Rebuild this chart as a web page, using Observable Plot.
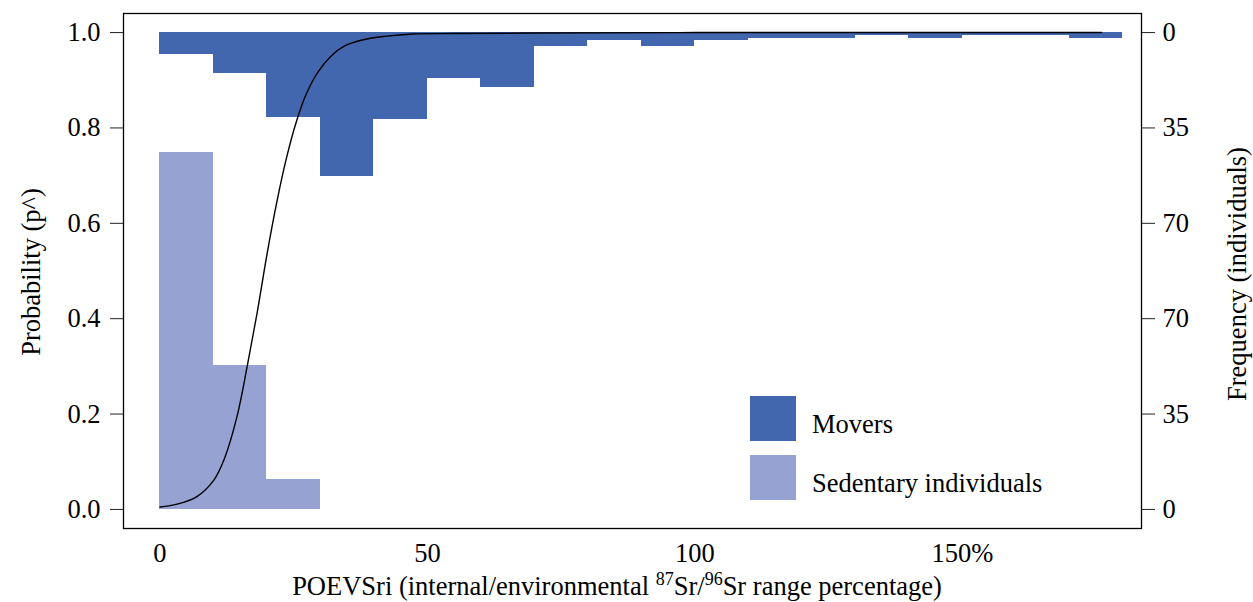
<!DOCTYPE html>
<html><head><meta charset="utf-8">
<script src="https://cdn.jsdelivr.net/npm/d3@7"></script>
<script src="https://cdn.jsdelivr.net/npm/@observablehq/plot@0.6"></script>
<style>body{margin:0;background:#fff;} svg{display:block}</style>
</head><body><div id="chart"></div>
<script>
// ---- data ----
const binStarts = [0,10,20,30,40,50,60,70,80,90,100,110,120,130,140,150,160,170];
const binWidth = 10;
const moverCounts = [8,15,31,53,32,17,20,5,3,5,3,2,2,1,2,1,1,2];
const sedentaryBinStarts = [0,10,20];
const sedentaryCounts = [131,53,11];
const individualsPerUnit = 175; // 35 individuals = 0.2 probability
const curveX = [0,3.2,6.9,10.1,12.0,14.4,16.3,18.2,20.0,21.9,23.6,25.4,27.3,29.4,31.9,34.5,38.0,42.0,47.4,55,70,100,140,176];
const curveY = [0.005,0.011,0.027,0.062,0.105,0.195,0.3,0.415,0.535,0.648,0.735,0.81,0.87,0.915,0.95,0.972,0.985,0.992,0.997,0.998,0.999,1.0,1.0,1.0];
const probTicks = [0,0.2,0.4,0.6,0.8,1.0];
const freqTickLabels = ["0","35","70","70","35","0"];
const xTicks = [0,50,100,150];
const xTickLabels = ["0","50","100","150%"];
const legendLabels = ["Movers","Sedentary individuals"];
const moverColor = "#4367AE", sedColor = "#95A2D2";

const movers = binStarts.map((b,i)=>({x1:b, x2:b+binWidth, y1:1, y2:1-moverCounts[i]/individualsPerUnit}));
const sed = sedentaryBinStarts.map((b,i)=>({x1:b, x2:b+binWidth, y1:0, y2:sedentaryCounts[i]/individualsPerUnit}));
const curve = curveX.map((x,i)=>({x, y:curveY[i]}));

const font = '"Liberation Serif", "Times New Roman", serif';
const fs = 26.5;
const plot = Plot.plot({
  width: 1253, height: 602,
  marginLeft: 123, marginRight: 112, marginTop: 13, marginBottom: 74,
  style: `font-family: ${font}; font-size: ${fs}px; color: #000; background: #fff;`,
  x: {domain: [-6.82, 183.46]},
  y: {domain: [-0.04, 1.04]},
  marks: [
    Plot.rect(sed, {x1:"x1", x2:"x2", y1:"y1", y2:"y2", fill: sedColor, inset: 0, shapeRendering: "crispEdges"}),
    Plot.rect(movers, {x1:"x1", x2:"x2", y1:"y1", y2:"y2", fill: moverColor, inset: 0, shapeRendering: "crispEdges"}),
    Plot.line(curve, {x:"x", y:"y", stroke:"black", strokeWidth:1.4, curve:"catmull-rom"}),
    Plot.frame({stroke:"black", strokeWidth:1.3}),
    Plot.axisX({ticks: xTicks, tickFormat: d => xTickLabels[xTicks.indexOf(d)], tickSize:0, tickPadding:15, label:null, fontSize:fs}),
    Plot.axisY({anchor:"left", ticks: probTicks, tickFormat: d3.format(".1f"), tickSize:13, tickPadding:10, label:null, fontSize:fs, stroke:"#222"}),
    Plot.axisY({anchor:"right", ticks: probTicks, tickFormat: d => freqTickLabels[probTicks.indexOf(d)], tickSize:13, tickPadding:8, label:null, fontSize:fs, stroke:"#222"})
  ]
});
document.getElementById("chart").appendChild(plot);

const svg = d3.select(plot);
const g = svg.append("g").attr("font-size", fs).attr("fill", "#000").attr("text-anchor","start");
g.append("text").attr("transform","translate(40,272) rotate(-90)").attr("text-anchor","middle").text("Probability (p^)");
g.append("text").attr("transform","translate(1246,274) rotate(-90)").attr("text-anchor","middle").text("Frequency (individuals)");
const xt = g.append("text").attr("x",617).attr("y",595).attr("text-anchor","middle");
xt.append("tspan").text("POEVSri (internal/environmental ");
xt.append("tspan").attr("font-size",18).attr("dy",-10).text("87");
xt.append("tspan").attr("dy",10).text("Sr/");
xt.append("tspan").attr("font-size",18).attr("dy",-10).text("96");
xt.append("tspan").attr("dy",10).text("Sr range percentage)");
// legend
const legendColors = [moverColor, sedColor];
const lg = g.append("g");
[396,455].forEach((yy,i)=>{
  lg.append("rect").attr("x",750).attr("y",yy).attr("width",46).attr("height",45).attr("fill",legendColors[i]);
  lg.append("text").attr("x",812).attr("y",yy+37).attr("text-anchor","start").text(legendLabels[i]);
});
svg.selectAll("text").attr("font-family", font).style("font-family", font);
</script></body></html>
